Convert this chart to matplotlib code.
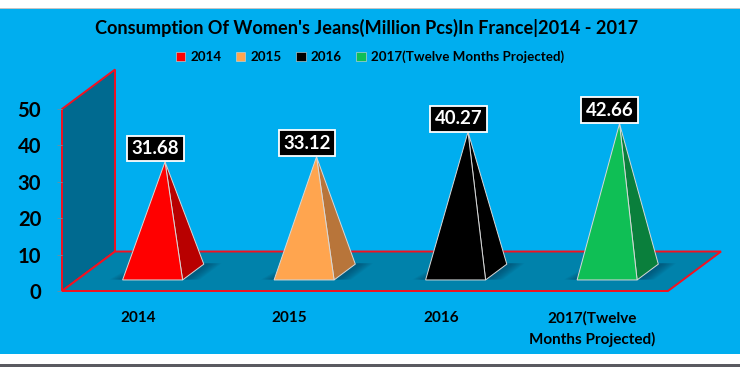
import matplotlib
matplotlib.use('Agg')
import matplotlib.pyplot as plt
from matplotlib.patches import Polygon, Rectangle, Patch

plt.rcParams['font.family'] = ['Lato', 'DejaVu Sans']
plt.rcParams['font.weight'] = 'bold'

# data
years = ['2014', '2015', '2016', '2017(Twelve Months Projected)']
tick_labels = ['2014', '2015', '2016', '2017(Twelve\nMonths Projected)']
values = [31.68, 33.12, 40.27, 42.66]
colors = ['#ff0000', '#ffa54f', '#000000', '#0fbf55']
side_colors = ['#b80000', '#b8753a', '#000000', '#0a7f3c']

# 3d look of the chart
depth_x = 0.35     # category units
depth_y = 10.85    # value units
half_w = 0.198
near = 0.28
far = 0.68
height_scale = 0.956
apex_shift = 0.012

W, H = 740, 367
fig = plt.figure(figsize=(W / 100, H / 100), dpi=100, facecolor='white')

# background bands
def band(top, bottom, color):
    fig.add_artist(Rectangle((0, 1 - bottom / H), 1, (bottom - top) / H,
                             transform=fig.transFigure, color=color, lw=0, zorder=-5))

band(8, 9, '#c4c4c4')
band(9, 354, '#00aeef')
band(363.5, 367, '#5a5a60')

# axes run along the front edge of the floor
ax = fig.add_axes([62 / W, 1 - 291 / H, 606 / W, 182 / H])
ax.patch.set_visible(False)
ax.set_xlim(0, 4)
ax.set_ylim(0, 50)
for s in ax.spines.values():
    s.set_visible(False)


def proj(x, y, d):
    return (x + depth_x * d, y + depth_y * d)


red = '#f5101f'
wall = [proj(0, 0, 0), proj(0, 50, 0), proj(0, 50, 1), proj(0, 0, 1)]
floor = [proj(0, 0, 0), proj(4, 0, 0), proj(4, 0, 1), proj(0, 0, 1)]
ax.add_patch(Polygon(wall, closed=True, fc='#006a90', ec=red, lw=1.4, clip_on=False, zorder=1))
ax.add_patch(Polygon(floor, closed=True, fc='#0082ab', ec=red, lw=1.4, clip_on=False, zorder=2))

for i, v in enumerate(values):
    c = i + 0.5
    # soft shadow on the floor
    for k in range(9):
        grow = 0.01 * k
        shade = [proj(c - half_w - grow - 0.01, 0, near + 0.01),
                 proj(c + half_w + grow + 0.03, 0, near + 0.01),
                 proj(c + half_w + grow + 0.03, 0, far + 0.02),
                 proj(c - half_w - grow + 0.03, 0, far + 0.02)]
        ax.add_patch(Polygon(shade, closed=True, fc='#003c5a', ec='none', alpha=0.07,
                             clip_on=False, zorder=3))
    apex = proj(c + apex_shift, v * height_scale, (near + far) / 2)
    fl = proj(c - half_w, 0, near)
    fr = proj(c + half_w, 0, near)
    br = proj(c + half_w, 0, far)
    ax.add_patch(Polygon([fr, br, apex], closed=True, fc=side_colors[i], ec='#d8d8d8', lw=0.7,
                         clip_on=False, zorder=4))
    ax.add_patch(Polygon([fl, fr, apex], closed=True, fc=colors[i], ec='#d8d8d8', lw=0.7,
                         clip_on=False, zorder=5))
    ax.annotate(f'{v:.2f}', xy=apex, xytext=(-7, 9.6), textcoords='offset points',
                ha='center', va='center', color='white', fontsize=13.4, fontweight='bold', zorder=6,
                bbox=dict(boxstyle='square,pad=0.24', fc='black', ec='white', lw=1.3))

ax.set_yticks([0, 10, 20, 30, 40, 50])
ax.set_xticks([0.5, 1.5, 2.5, 3.5])
ax.set_xticklabels(tick_labels, fontsize=11, fontweight='bold', linespacing=1.5)
ax.tick_params(axis='x', length=0, pad=14.5)
ax.tick_params(axis='y', length=3.5, width=0.7, color='#5f93a8', labelsize=14.6, pad=11.5)
for t in ax.get_yticklabels():
    t.set_fontweight('bold')

fig.text(367 / W, 1 - 28 / H, "Consumption Of Women's Jeans(Million Pcs)In France|2014 - 2017",
         ha='center', va='center', fontsize=13.05, fontweight='bold', color='black')

handles = [Patch(fc=col, ec='#d8d8d8', lw=0.4, label=lab) for col, lab in zip(colors, years)]
fig.legend(handles=handles, loc='center', bbox_to_anchor=(370 / W, 1 - 57 / H), ncol=4, frameon=False,
           fontsize=9.6, handlelength=0.72, handleheight=0.72, handletextpad=0.4, columnspacing=1.05)

fig.savefig('out.png', dpi=100, facecolor='white')
